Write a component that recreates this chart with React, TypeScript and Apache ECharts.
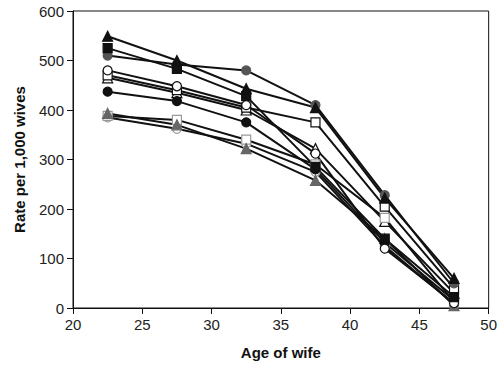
import React, { useEffect, useRef } from "react";
import * as echarts from "echarts";

const ages = [22.5, 27.5, 32.5, 37.5, 42.5, 47.5];
const xTicks = [20, 25, 30, 35, 40, 45, 50];
const yTicks = [0, 100, 200, 300, 400, 500, 600];

const seriesA = [549, 500, 443, 405, 222, 60];
const seriesB = [525, 483, 428, 285, 140, 22];
const seriesC = [510, 492, 480, 410, 228, 50];
const seriesD = [480, 448, 410, 312, 120, 10];
const seriesE = [470, 440, 405, 375, 205, 40];
const seriesF = [437, 418, 375, 280, 132, 15];
const seriesG = [393, 370, 322, 258, 140, 5];
const seriesH = [388, 380, 340, 290, 182, 12];
const seriesI = [385, 362, 332, 275, 125, 8];
const seriesJ = [465, 435, 400, 322, 175, 30];

const styles = [
  { data: seriesJ, symbol: "triangle", fill: "#fff", border: "#111" },
  { data: seriesI, symbol: "circle", fill: "#fff", border: "#999" },
  { data: seriesH, symbol: "rect", fill: "#fff", border: "#999" },
  { data: seriesG, symbol: "triangle", fill: "#666", border: "#666" },
  { data: seriesF, symbol: "circle", fill: "#111", border: "#111" },
  { data: seriesE, symbol: "rect", fill: "#fff", border: "#111" },
  { data: seriesD, symbol: "circle", fill: "#fff", border: "#111" },
  { data: seriesC, symbol: "circle", fill: "#555", border: "#555" },
  { data: seriesB, symbol: "rect", fill: "#111", border: "#111" },
  { data: seriesA, symbol: "triangle", fill: "#111", border: "#111" },
];

export default function App() {
  const ref = useRef<HTMLDivElement>(null);
  useEffect(() => {
    if (!ref.current) return;
    const chart = echarts.init(ref.current, undefined, { renderer: "svg" });
    const font = "Liberation Sans, Arial, sans-serif";
    chart.setOption({
      animation: false,
      grid: {
        left: 73,
        right: 11,
        top: 11,
        bottom: 62,
        show: true,
        borderColor: "#111",
        borderWidth: 1,
      },
      xAxis: {
        type: "value",
        min: xTicks[0],
        max: xTicks[xTicks.length - 1],
        interval: 5,
        name: "Age of wife",
        nameLocation: "middle",
        nameGap: 37,
        nameTextStyle: { fontFamily: font, fontSize: 15, fontWeight: "bold", color: "#111" },
        axisLine: { lineStyle: { color: "#111" } },
        axisTick: { show: true, length: 6, lineStyle: { color: "#111" } },
        axisLabel: { fontFamily: font, fontSize: 15, color: "#222", margin: 9 },
        splitLine: { show: false },
      },
      yAxis: {
        type: "value",
        min: yTicks[0],
        max: yTicks[yTicks.length - 1],
        interval: 100,
        name: "Rate per 1,000 wives",
        nameLocation: "middle",
        nameGap: 46,
        nameTextStyle: { fontFamily: font, fontSize: 15, fontWeight: "bold", color: "#111" },
        axisLine: { show: true, lineStyle: { color: "#111" } },
        axisTick: { show: true, length: 6, lineStyle: { color: "#111" } },
        axisLabel: { fontFamily: font, fontSize: 15, color: "#222", margin: 9 },
        splitLine: { show: false },
      },
      series: styles.map((s) => ({
        type: "line",
        data: ages.map((a, i) => [a, s.data[i]]),
        symbol: s.symbol,
        symbolSize: s.symbol === "triangle" ? 10 : 9,
        showAllSymbol: true,
        lineStyle: { color: "#111", width: 2 },
        itemStyle: { color: s.fill, borderColor: s.border, borderWidth: 1.2 },
        z: 2,
      })),
    });
    return () => chart.dispose();
  }, []);
  return <div ref={ref} style={{ width: 500, height: 370, position: "absolute", left: 0, top: 0 }} />;
}
